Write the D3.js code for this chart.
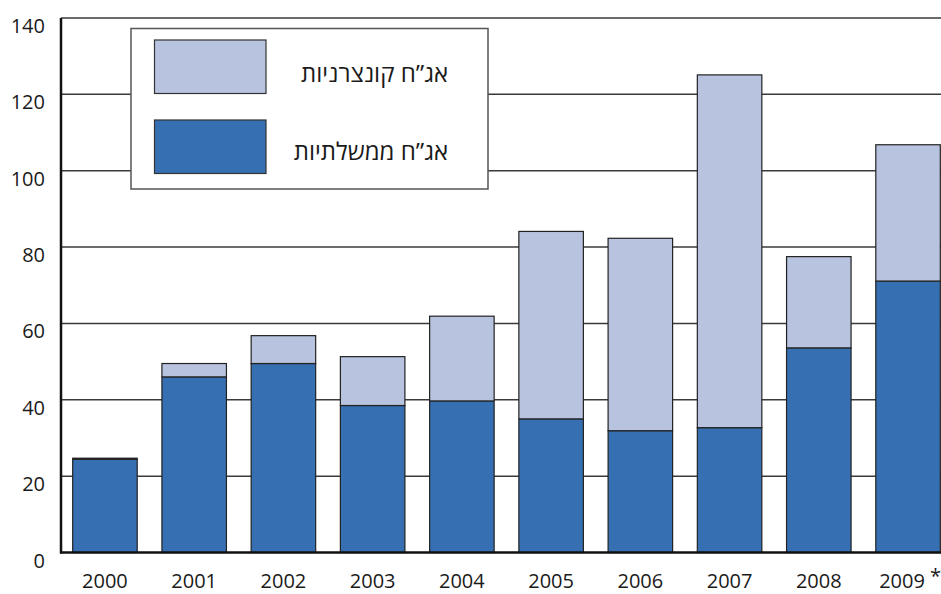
<!DOCTYPE html>
<html><head><meta charset="utf-8">
<script src="https://cdn.jsdelivr.net/npm/d3@7"></script>
<style>body{margin:0;background:#fff}svg{display:block}</style>
</head><body>
<script>
const years = ["2000","2001","2002","2003","2004","2005","2006","2007","2008","2009"];
const government = [24.4, 46.0, 49.5, 38.5, 39.7, 35.0, 31.9, 32.7, 53.6, 71.1];
const corporate = [0.3, 3.5, 7.3, 12.8, 22.2, 49.1, 50.4, 92.4, 23.9, 35.7];
const yTicks = [0, 20, 40, 60, 80, 100, 120, 140];
const seriesNames = ["אג\u201Dח ממשלתיות", "אג\u201Dח קונצרניות"];
const colors = ["#3770b2", "#b8c3df"];

const W = 941, H = 594;
const svg = d3.select("body").append("svg").attr("width", W).attr("height", H);
const font = "'Open Sans', 'DejaVu Sans', sans-serif";

const x = d3.scaleBand().domain(years).range([61, 952]).paddingInner(0.277).paddingOuter(0.131);
const y = d3.scaleLinear().domain([0, 140]).range([552.5, 18]);

// gridlines
svg.append("g").selectAll("line").data(yTicks.filter(d => d > 0)).join("line")
  .attr("x1", 61).attr("x2", W).attr("y1", d => y(d)).attr("y2", d => y(d))
  .attr("stroke", "#3a3a3a").attr("stroke-width", 1.5);

// stacked bars
const rows = years.map((yr, i) => ({year: yr, gov: government[i], corp: corporate[i]}));
const stack = d3.stack().keys(["gov", "corp"])(rows);
svg.append("g").selectAll("g").data(stack).join("g")
  .attr("fill", (d, i) => colors[i])
  .selectAll("rect").data(d => d).join("rect")
  .attr("x", d => x(d.data.year)).attr("width", x.bandwidth())
  .attr("y", d => y(d[1])).attr("height", d => y(d[0]) - y(d[1]))
  .attr("stroke", "#222").attr("stroke-width", 1.2);

// axes
svg.append("line").attr("x1", 61).attr("x2", 61).attr("y1", y(140)).attr("y2", y(0) + 1)
  .attr("stroke", "#111").attr("stroke-width", 2.5);
svg.append("line").attr("x1", 60).attr("x2", W).attr("y1", y(0)).attr("y2", y(0))
  .attr("stroke", "#111").attr("stroke-width", 2.5);

// y labels
svg.append("g").selectAll("text").data(yTicks).join("text")
  .attr("x", 45).attr("y", d => y(d) + 15)
  .attr("text-anchor", "end").attr("font-family", font).attr("font-size", 20)
  .attr("fill", "#1a1a1a").text(d => d);

// x labels
svg.append("g").selectAll("text").data(years).join("text")
  .attr("x", d => x(d) + x.bandwidth() / 2 - (d === "2009" ? 6 : 0)).attr("y", 588)
  .attr("text-anchor", "middle").attr("font-family", font).attr("font-size", 20)
  .attr("fill", "#1a1a1a").text(d => d);
svg.append("text").attr("x", 941).attr("y", 583).attr("text-anchor", "end")
  .attr("font-family", font).attr("font-size", 20).attr("fill", "#1a1a1a").text("*");

// legend
const lg = svg.append("g");
lg.append("rect").attr("x", 131).attr("y", 28.5).attr("width", 357).attr("height", 160.5)
  .attr("fill", "#fff").attr("stroke", "#555").attr("stroke-width", 1.5);
const legendItems = [{name: seriesNames[1], color: colors[1]}, {name: seriesNames[0], color: colors[0]}];
legendItems.forEach((it, i) => {
  const top = 40 + i * 80;
  lg.append("rect").attr("x", 154.5).attr("y", top).attr("width", 111.5).attr("height", 53.5)
    .attr("fill", it.color).attr("stroke", "#333").attr("stroke-width", 1.2);
  lg.append("text").attr("x", 448).attr("y", top + 42 - i * 2)
    .attr("text-anchor", "start").attr("direction", "rtl")
    .attr("font-family", font).attr("font-size", 24).attr("fill", "#1a1a1a").text(it.name);
});
</script>
</body></html>
